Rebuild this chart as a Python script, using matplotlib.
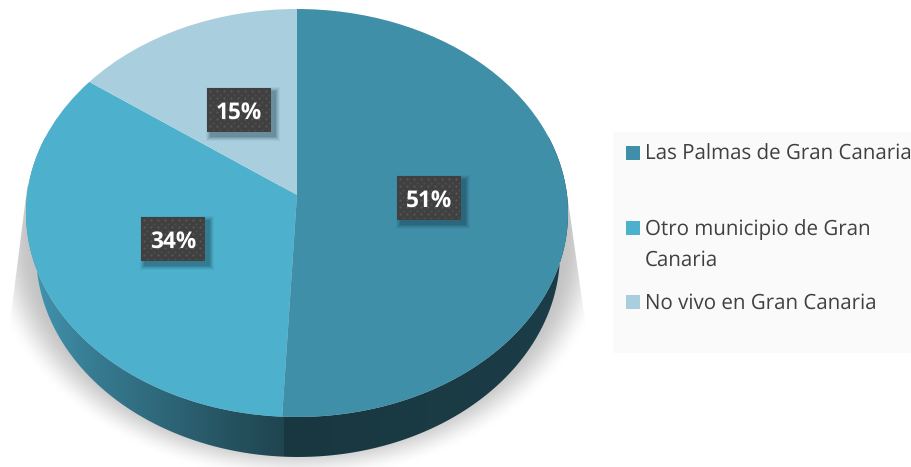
import numpy as np
import matplotlib
matplotlib.use("Agg")
import matplotlib.pyplot as plt
from matplotlib.colors import LinearSegmentedColormap
from matplotlib.patches import Rectangle, PathPatch
from matplotlib.transforms import Transform
from matplotlib.path import Path

categories = ["Las Palmas de Gran Canaria", "Otro municipio de Gran\nCanaria", "No vivo en Gran Canaria"]
values = [50.8, 34.2, 15.0]
labels = ["51%", "34%", "15%"]
colors = ["#3F8FA9", "#4DB0CD", "#A9CFDE"]
label_xy = [(429, 198), (173, 239), (239, 110)]
legend_y = [153, 228, 302]

CX, CY, K, A, C = 297.0, 195.0, 270.0, 202.4, 0.0882
DEPTH = 40
K_LOW = 261.0
CX_LOW = 298.0


class Persp(Transform):
    input_dims = output_dims = 2
    has_inverted = False

    def transform_non_affine(self, xy):
        xy = np.asarray(xy, float)
        d = 1 + C * xy[:, 1]
        return np.column_stack([CX + K * xy[:, 0] / d, CY - A * xy[:, 1] / d])

    def transform_path_non_affine(self, path):
        return Path(self.transform_non_affine(path.vertices), path.codes)


plt.rcParams["font.family"] = ["Open Sans", "DejaVu Sans"]
plt.rcParams["text.hinting"] = "no_hinting"
plt.rcParams["text.hinting_factor"] = 8
fig = plt.figure(figsize=(9.12, 4.67), dpi=100, facecolor="white")
ax = fig.add_axes([0, 0, 1, 1])

W, H = 912, 467
yy, xx = np.mgrid[0:H, 0:W]

# soft shadow under the disc, with straight flared sides
r = np.sqrt(((xx - 297) / 312.0) ** 2 + ((yy - 237) / 243.0) ** 2)
dist = (r - 1) * 240
fade = np.clip(-dist / 36.0, 0, 1)
fade = fade * fade * (3 - 2 * fade)
left = 27 - (yy - 180) * 19 / 150.0
right = 568 + (yy - 200) * 17 / 120.0
side = np.clip(xx - left, 0, 1) * np.clip(right - xx, 0, 1) * (yy > 185)
img = np.ones((H, W, 4))
img[..., :3] = 0.77
img[..., 3] = fade * side
ax.imshow(img, extent=(0, W, H, 0), zorder=1, interpolation="bilinear", aspect="auto")

# side wall, from the same perspective shape lowered and slightly narrowed
wall = LinearSegmentedColormap.from_list(
    "wall",
    [(0, "#45A0BC"), (0.03, "#3F90AA"), (0.12, "#377C92"), (0.25, "#2E6779"), (0.38, "#25525F"),
     (0.476, "#1F4550"), (0.478, "#193741"), (1, "#1B3D47")])
grad = np.linspace(0, 1, 542)[None, :]
im = ax.imshow(grad, extent=(26, 568, 467, 0), cmap=wall, zorder=2, aspect="auto")
tt = np.linspace(np.pi / 2 - 0.3, 3 * np.pi / 2 + 0.3, 400)
dd = 1 + C * np.cos(tt)
low = np.column_stack([CX_LOW + K_LOW * np.sin(tt) / dd, CY + DEPTH - A * np.cos(tt) / dd])
upp = np.column_stack([CX + K * np.sin(tt) / dd, CY - A * np.cos(tt) / dd])
clip = Path(np.vstack([low, upp[::-1], low[:1]]), closed=True)
im.set_clip_path(PathPatch(clip, transform=ax.transData))

# pie top, drawn from the values through a perspective transform
wedges, _ = ax.pie(values, colors=colors, startangle=90, counterclock=False, radius=1, center=(0, 0),
                   wedgeprops=dict(linewidth=0))
persp = Persp()
for w in wedges:
    w.set_transform(persp + ax.transData)
    w.set_zorder(3)
    w.set_clip_on(False)

ax.set_aspect("auto")
ax.set_xlim(0, W)
ax.set_ylim(H, 0)
ax.set_axis_off()

# data labels
bw, bh = 64, 44
for (x, y), s_ in zip(label_xy, labels):
    for i, a in enumerate([0.05, 0.07, 0.09, 0.12, 0.14]):
        off = 4
        grow = 5 - i
        ax.add_patch(Rectangle((x - bw / 2 + off - grow, y - bh / 2 + off - grow), bw + 2 * grow, bh + 2 * grow,
                               fc="#10303A", ec="none", alpha=a, zorder=4))
    ax.add_patch(Rectangle((x - bw / 2, y - bh / 2), bw, bh, fc="#404040", ec="none", zorder=5))
    gx, gy = np.meshgrid(np.arange(x - bw / 2 + 3, x + bw / 2, 7), np.arange(y - bh / 2 + 3, y + bh / 2, 7))
    ax.scatter(gx.ravel(), gy.ravel(), s=2.5, c="#585858", linewidths=0, zorder=5.5)
    gx2, gy2 = np.meshgrid(np.arange(x - bw / 2 + 6.5, x + bw / 2, 7), np.arange(y - bh / 2 + 6.5, y + bh / 2, 7))
    ax.scatter(gx2.ravel(), gy2.ravel(), s=2.5, c="#4E4E4E", linewidths=0, zorder=5.5)
    ax.text(x, y, s_, color="white", fontsize=16.3, fontweight="bold", ha="center", va="center_baseline", zorder=6)

# legend
ax.add_patch(Rectangle((613, 132), 299, 221, fc="#FAFAFA", ec="none", zorder=1))
for c, y, name in zip(colors, legend_y, categories):
    ax.add_patch(Rectangle((626, y - 7), 14, 14, fc=c, ec="none", zorder=3))
    ax.text(645, y - 9, name, color="#404040", fontsize=14.8, ha="left", va="top", linespacing=1.62, zorder=3, clip_on=False)

fig.savefig("out.png", dpi=100)
